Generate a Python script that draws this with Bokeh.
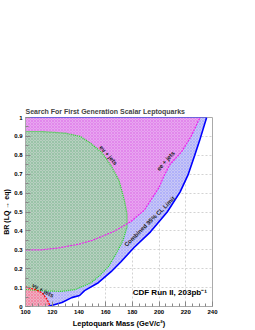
from bokeh.plotting import figure
from bokeh.embed import file_html
from bokeh.resources import INLINE
from bokeh.models import Range1d, FixedTicker, Spacer
from bokeh.layouts import column
from bokeh.core.properties import value

# ---- data ----
x_ticks = [100, 120, 140, 160, 180, 200, 220, 240]
x_minor = [105, 110, 115, 125, 130, 135, 145, 150, 155, 165, 170, 175, 185, 190, 195,
           205, 210, 215, 225, 230, 235]
y_ticks = [0, 0.1, 0.2, 0.3, 0.4, 0.5, 0.6, 0.7, 0.8, 0.9, 1]
y_tick_labels = ["0", "0.1", "0.2", "0.3", "0.4", "0.5", "0.6", "0.7", "0.8", "0.9", "1"]
y_minor = [0.05, 0.15, 0.25, 0.35, 0.45, 0.55, 0.65, 0.75, 0.85, 0.95]

# combined 95% CL limit (blue)
comb_mass = [116.9, 127.3, 134.6, 140.5, 144.2, 154.5, 164.1, 171.5, 181.1, 193.6,
             206.1, 215.7, 221.6, 226.7, 230.4, 235.6]
comb_br = [0.0, 0.021, 0.047, 0.058, 0.084, 0.126, 0.184, 0.237, 0.311, 0.395,
           0.50, 0.605, 0.695, 0.80, 0.879, 1.0]

# ee + jets (magenta)
ee_mass = [100, 112, 125, 140, 150, 157, 167, 179, 189, 200, 203, 208, 217, 224, 230, 231]
ee_br = [0.30, 0.30, 0.31, 0.33, 0.35, 0.37, 0.40, 0.45, 0.51, 0.63, 0.68, 0.75, 0.82,
         0.90, 0.99, 1.0]

# e nu + jets (green)
enu_mass = [100, 112, 130, 141, 148, 157, 164, 170, 174, 176, 176, 173, 168, 162, 155,
            149, 137, 127, 115, 100]
enu_br = [0.926, 0.926, 0.917, 0.90, 0.868, 0.816, 0.746, 0.667, 0.563, 0.49, 0.42,
          0.35, 0.28, 0.21, 0.16, 0.125, 0.089, 0.08, 0.082, 0.09]

# nu nu + jets (red)
nunu_mass = [100, 107.6, 112.5, 116.2, 118.6]
nunu_br = [0.104, 0.089, 0.072, 0.037, 0.0]

title_text = "Search For First Generation Scalar Leptoquarks"
x_label = "Leptoquark Mass (GeV/c\u00b2)"
y_label = "BR (LQ \u2192 eq)"

FONT = "Liberation Sans"

p = figure(width=246, height=232, x_range=Range1d(100, 240), y_range=Range1d(0, 1),
           output_backend="svg", toolbar_location=None,
           min_border_left=22, min_border_right=34, min_border_top=19,
           min_border_bottom=22, background_fill_color="white")

p.title.text = title_text
p.title.text_font = FONT
p.title.text_font_size = "7px"
p.title.text_font_style = "bold"
p.title.align = "left"
p.title.offset = 0
p.title.standoff = 6

# grid
for g in (p.xgrid, p.ygrid):
    g.grid_line_color = "#c8c8c8"
    g.grid_line_dash = "2 2"
    g.grid_line_width = 0.8
p.xgrid.ticker = FixedTicker(ticks=x_ticks)
p.ygrid.ticker = FixedTicker(ticks=y_ticks)

# regions
cx = [100] + comb_mass + [100]
cy = [0] + comb_br + [1.0]
p.patch(cx, cy, fill_color="#c8c8f6", line_color=None,
        hatch_pattern="diagonal_cross", hatch_color="#7a7aff", hatch_scale=3,
        hatch_weight=0.5, hatch_alpha=0.6)

ex = ee_mass + [100]
ey = ee_br + [1.0]
p.patch(ex, ey, fill_color="#e8a6f0", line_color=None,
        hatch_pattern="diagonal_cross", hatch_color="#d040e0", hatch_scale=3,
        hatch_weight=0.5, hatch_alpha=0.6)

p.patch(enu_mass, enu_br, fill_color="#b8d0c0", line_color=None,
        hatch_pattern="diagonal_cross", hatch_color="#3a9a5a", hatch_scale=3,
        hatch_weight=0.5, hatch_alpha=0.5)

nx = [100] + nunu_mass
ny = [0] + nunu_br
p.patch(nx, ny, fill_color="#eeb0c2", line_color=None,
        hatch_pattern="diagonal_cross", hatch_color="#ff3060", hatch_scale=3,
        hatch_weight=0.5, hatch_alpha=0.6)

# boundary lines
p.line(enu_mass, enu_br, line_color="#22dd22", line_width=1.2, line_dash="1 1")
p.line(ee_mass, ee_br, line_color="#ee22ee", line_width=1.2, line_dash="2 1")
p.line(nunu_mass, nunu_br, line_color="#ff0000", line_width=1.2, line_dash="2 1")
p.line([100] + comb_mass[-1:], [1.0, 1.0], line_color="#2020ee", line_width=1.2)
p.line(comb_mass, comb_br, line_color="#0000ff", line_width=1.6)

# annotations
lab_x = [162, 205, 193, 113]
lab_y = [0.80, 0.77, 0.45, 0.085]
lab_t = ["e\u03bd + jets", "ee + jets", "Combined 95% CL Limit", "\u03bd\u03bd + jets"]
lab_a = [-0.85, 0.85, 0.78, -0.5]
p.text(lab_x, lab_y, text=lab_t, angle=lab_a, text_font=value(FONT),
       text_font_size="6px", text_font_style="bold", text_color="#222222",
       text_align="center", text_baseline="middle")

p.text([208], [0.074], text=["CDF Run II, 203pb\u207b\u00b9"], text_font=value(FONT),
       text_font_size="8px", text_font_style="bold", text_color="black",
       text_align="center", text_baseline="middle")

# axes
p.xaxis.ticker = FixedTicker(ticks=x_ticks, minor_ticks=x_minor)
p.yaxis.ticker = FixedTicker(ticks=y_ticks, minor_ticks=y_minor)
p.yaxis.major_label_overrides = {t: l for t, l in zip(y_ticks, y_tick_labels)}
p.xaxis.axis_label = x_label
p.yaxis.axis_label = y_label
for ax in (p.xaxis, p.yaxis):
    ax.axis_line_color = "#aaaaaa"
    ax.major_tick_line_color = "#888888"
    ax.minor_tick_line_color = "#888888"
    ax.major_tick_in = 5
    ax.major_tick_out = 0
    ax.minor_tick_in = 3
    ax.minor_tick_out = 0
    ax.major_label_text_font = FONT
    ax.major_label_text_font_size = "6px"
    ax.major_label_text_font_style = "bold"
    ax.major_label_text_color = "black"
    ax.axis_label_text_font = FONT
    ax.axis_label_text_font_style = "bold"
    ax.axis_label_text_color = "black"
p.xaxis.axis_label_text_font_size = "7.5px"
p.yaxis.axis_label_text_font_size = "7px"
p.xaxis.major_label_standoff = 3
p.xaxis.axis_label_standoff = 2
p.yaxis.major_label_standoff = 3
p.yaxis.axis_label_standoff = 1
p.outline_line_color = "#aaaaaa"

layout = column(Spacer(height=98, width=246), p)

open("out.html", "w").write(file_html(layout, INLINE))
